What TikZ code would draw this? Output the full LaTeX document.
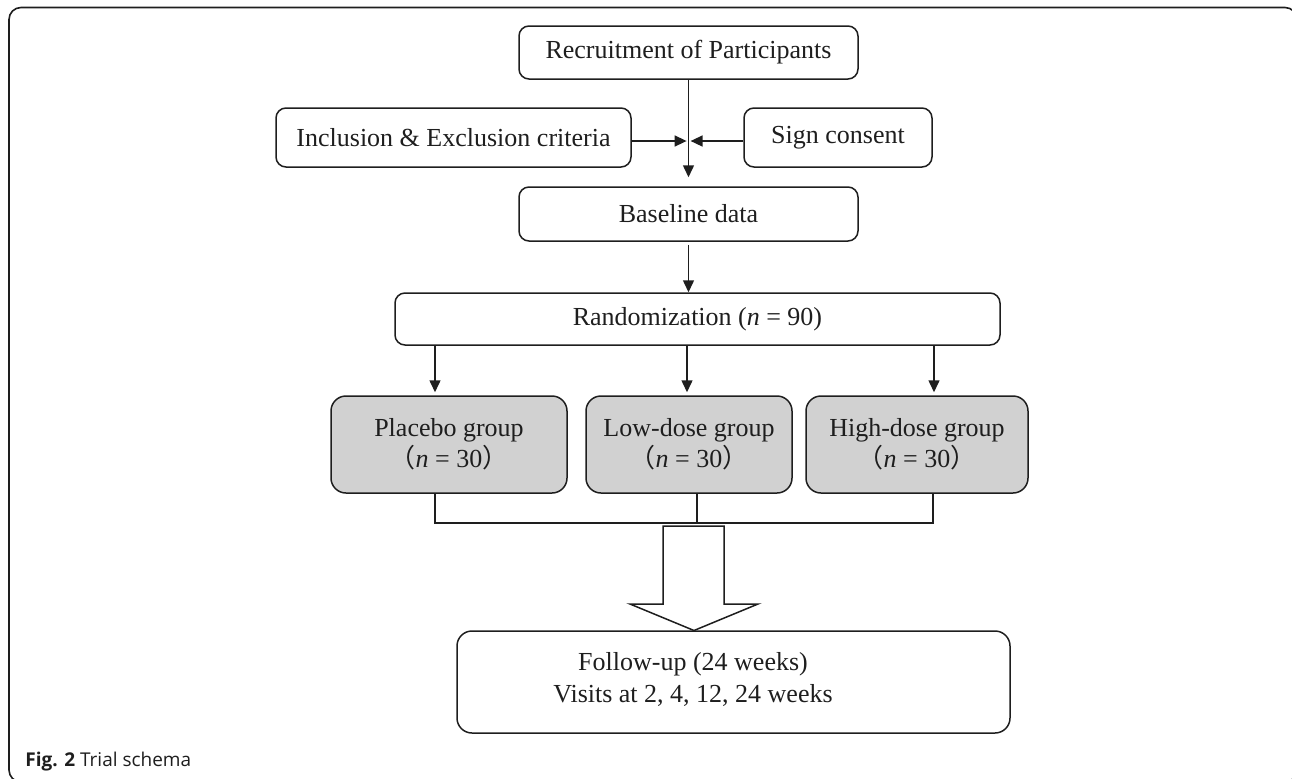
\documentclass[tikz,border=0pt]{standalone}
\usepackage{fontspec}
\setmainfont{Liberation Serif}
\newfontfamily\capfont{Open Sans}
\newfontfamily\cjk{Noto Sans CJK SC}
\usetikzlibrary{arrows.meta,calc}
\definecolor{boxgray}{RGB}{209,209,209}
\definecolor{inkc}{RGB}{30,30,30}
\begin{document}
\begin{tikzpicture}[x=0.5pt,y=-0.5pt,
  box/.style={draw=inkc, text=inkc, rounded corners=5pt, line width=0.75pt, inner sep=0pt, align=center, font=\fontsize{13}{15.5}\selectfont},
  grp/.style={box, fill=boxgray, rounded corners=7.5pt},
  arr/.style={draw=inkc, line width=0.75pt, -{Triangle[length=6pt,width=5.5pt]}},
  ln/.style={draw=inkc, line width=0.75pt}]
\useasboundingbox (0,0) rectangle (1292,778);
\clip (0,0) rectangle (1292,778);
% outer frame
\draw[draw=inkc, line width=0.8pt, rounded corners=6pt] (9,782) -- (9,7.5) -- (1297,7.5) -- (1297,782) -- cycle;

% nodes
\node[box, minimum width=169.5pt, minimum height=26.5pt] (rec) at (688.5,52.5) {Recruitment of Participants};
\node[box, minimum width=177.5pt, minimum height=29.5pt] (inc) at (453.5,137.5) {Inclusion \& Exclusion criteria};
\node[box, minimum width=94pt, minimum height=29.5pt] (sign) at (838,137.5) {Sign consent};
\node[box, minimum width=169.5pt, minimum height=27pt] (base) at (688.5,214) {Baseline data};
\node[box, minimum width=302.5pt, minimum height=26pt] (rand) at (697.5,319) {Randomization (\textit{n} = 90)};
\node[grp, minimum width=118pt, minimum height=48.5pt] (pla) at (449,444.5) {Placebo group\\{\cjk （}\textit{n} = 30{\cjk ）}};
\node[grp, minimum width=103pt, minimum height=48.5pt] (low) at (689,444.5) {Low-dose group\\{\cjk （}\textit{n} = 30{\cjk ）}};
\node[grp, minimum width=111pt, minimum height=48.5pt] (high) at (917,444.5) {High-dose group\\{\cjk （}\textit{n} = 30{\cjk ）}};
\node[box, rounded corners=7.5pt, minimum width=276.5pt, minimum height=51pt] (fu) at (733.5,682) {};
\node[text=inkc, inner sep=0pt, align=center, font=\fontsize{13}{16}\selectfont] (futxt) at (693,679) {Follow-up (24 weeks)\\Visits at 2, 4, 12, 24 weeks};

% connectors
\coordinate (j) at (688.6,141);
\draw[arr, shorten >=4.5pt] (rec.south) -- (base.north);
\draw[arr] (inc.east |- j) -- ([xshift=-1pt]j);
\draw[arr] (sign.west |- j) -- ([xshift=1pt]j);
\draw[arr, shorten <=1.5pt] (base.south) -- (base.south |- rand.north);

\coordinate (c1) at (435,0);
\coordinate (c2) at (687,0);
\coordinate (c3) at (934,0);
\draw[arr, shorten >=1.5pt] (rand.south -| c1) -- (pla.north -| c1);
\draw[arr, shorten >=1.5pt] (rand.south -| c2) -- (low.north -| c2);
\draw[arr, shorten >=1.5pt] (rand.south -| c3) -- (high.north -| c3);

\coordinate (b1) at (435,523);
\coordinate (b2) at (697,523);
\coordinate (b3) at (933,523);
\draw[ln] (pla.south -| b1) -- (b1) -- (b3) -- (high.south -| b3);
\draw[ln] (low.south -| b2) -- (b2);

% block arrow
\draw[ln, fill=white] (663,526) -- (724,526) -- (724,604) -- (758,604) -- (694,630.5) -- (630,604) -- (663,604) -- cycle;

% caption
\node[anchor=base west, inner sep=0pt, text=inkc, font=\capfont\fontsize{9.5}{11}\selectfont] (cap) at (25,766) {\textbf{Fig. 2} Trial schema};
\end{tikzpicture}
\end{document}
